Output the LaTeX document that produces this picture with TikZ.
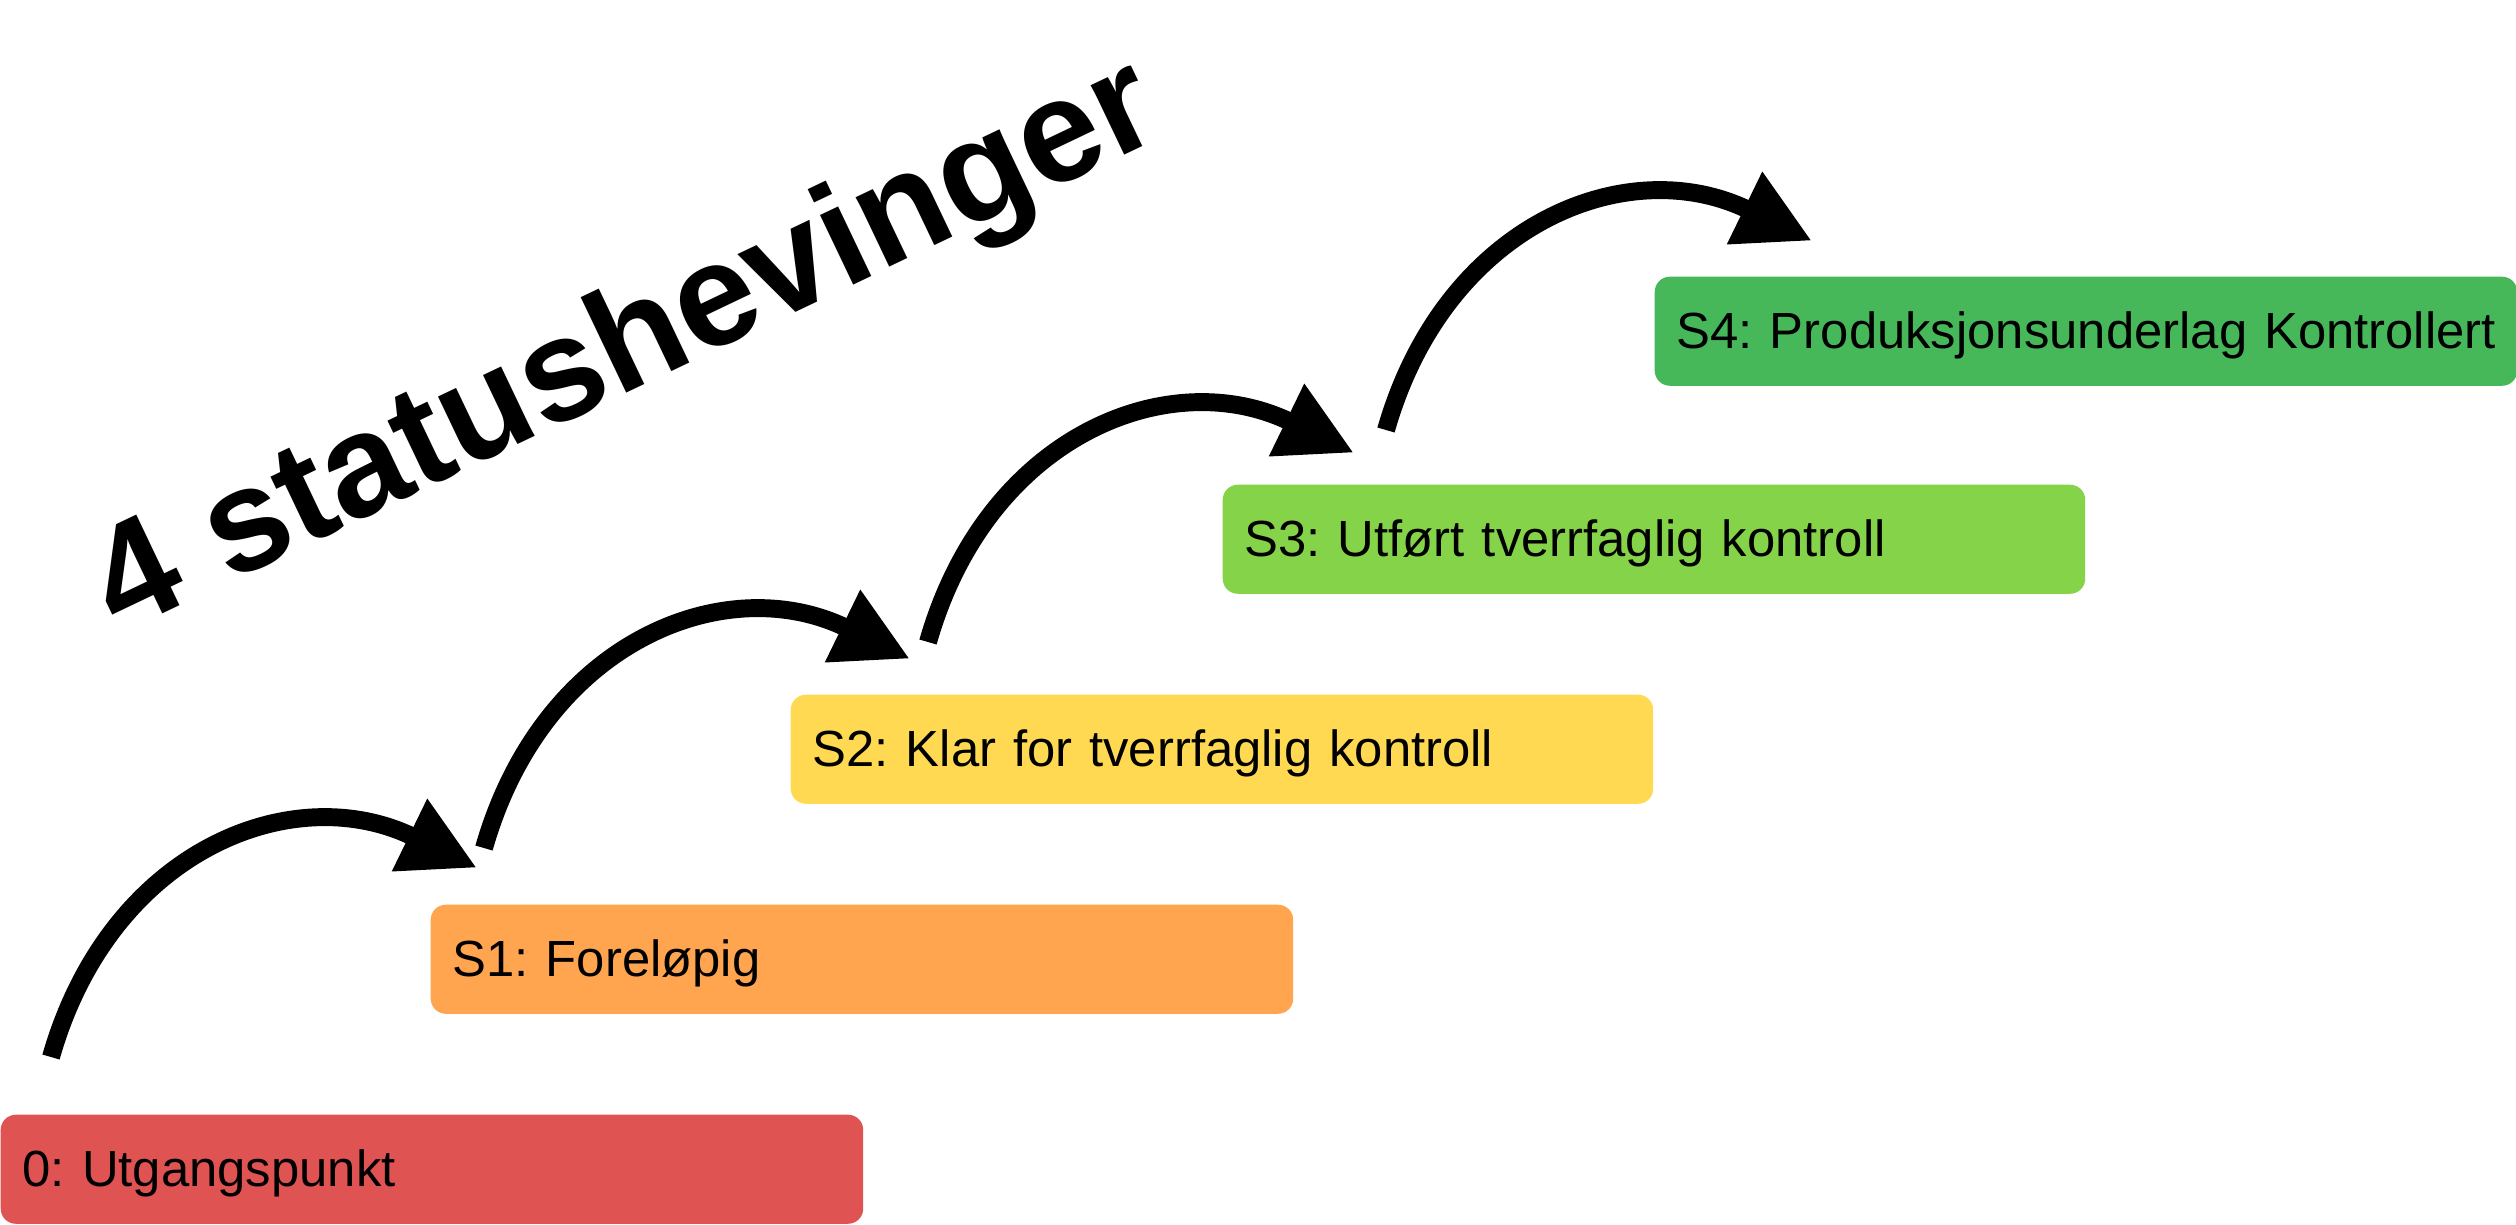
\documentclass[tikz,border=0pt]{standalone}
\usepackage{fontspec}
\setmainfont{Liberation Sans}
\usetikzlibrary{arrows.meta}
\definecolor{c0}{HTML}{E05353}
\definecolor{c1}{HTML}{FFA44F}
\definecolor{c2}{HTML}{FFD952}
\definecolor{c3}{HTML}{84D348}
\definecolor{c4}{HTML}{47B85A}
\frenchspacing
\begin{document}
\begin{tikzpicture}[x=0.01cm,y=-0.01cm,
  box/.style={rectangle, rounded corners=4.3pt, anchor=north west,
    inner xsep=0.22cm, inner ysep=0pt, text width=8.18cm, align=left,
    text height=0.72cm, text depth=0.37cm,
    font=\fontsize{14.45pt}{17pt}\selectfont\frenchspacing},
  stair/.style={line width=5.1pt, -{Triangle[length=21.3pt,width=21.5pt]},
    shorten >=-21.3pt},
  titletext/.style={font=\fontsize{41.5pt}{48pt}\selectfont\bfseries,
    rotate=25.5, anchor=base west, inner sep=0pt}
]
\useasboundingbox (0,0) rectangle (2516,1224);

\node[box, fill=c0] (s0) at (0,1114) {\mbox{0: Utgangspunkt}};
\node[box, fill=c1] (s1) at (430,904) {\mbox{S1: Foreløpig}};
\node[box, fill=c2] (s2) at (790,694) {\mbox{S2: Klar for tverrfaglig kontroll}};
\node[box, fill=c3] (s3) at (1222,484) {\mbox{S3: Utført tverrfaglig kontroll}};
\node[box, fill=c4] (s4) at (1654,276) {\mbox{S4: Produksjonsunderlag Kontrollert}};

\foreach \i/\x/\y in {1/51/1057, 2/484/848, 3/928/642, 4/1386/430} {
  \coordinate (a\i) at (\x,\y);
  \coordinate (b\i) at (\x+358.5,\y-222);
  \draw[stair] (a\i) .. controls +(59,-207) and +(-117,-57) .. (b\i);
}

\node[titletext] (title) at (119,635) {4 statushevinger};
\end{tikzpicture}
\end{document}
